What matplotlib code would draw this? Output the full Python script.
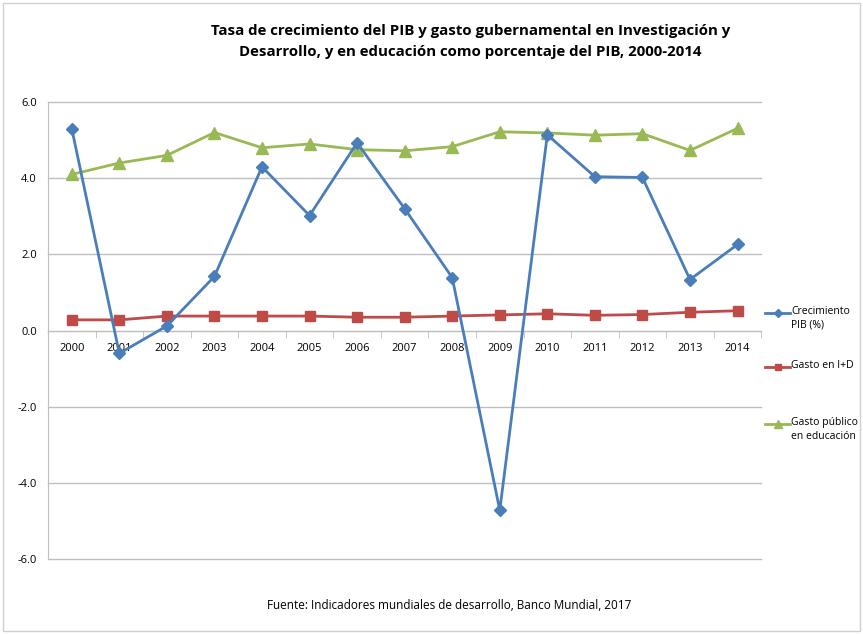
import matplotlib.pyplot as plt
from matplotlib.patches import Rectangle
from matplotlib.lines import Line2D

years = [2000, 2001, 2002, 2003, 2004, 2005, 2006, 2007, 2008, 2009, 2010, 2011, 2012, 2013, 2014]
pib = [5.30, -0.60, 0.12, 1.42, 4.30, 3.02, 4.93, 3.20, 1.39, -4.72, 5.14, 4.04, 4.02, 1.34, 2.26]
gasto_id = [0.28, 0.28, 0.38, 0.38, 0.38, 0.38, 0.35, 0.35, 0.38, 0.41, 0.44, 0.40, 0.42, 0.48, 0.52]
gasto_edu = [4.10, 4.40, 4.60, 5.20, 4.80, 4.90, 4.75, 4.72, 4.83, 5.22, 5.19, 5.13, 5.17, 4.73, 5.31]
labels = ['Crecimiento\nPIB (%)', 'Gasto en I+D', 'Gasto público\nen educación']

plt.rcParams['font.family'] = ['Open Sans', 'DejaVu Sans']

W, H = 863, 634
fig = plt.figure(figsize=(W / 100, H / 100), dpi=100)
fig.patches.append(Rectangle((0.004, 0.004), 0.992, 0.992, transform=fig.transFigure,
                             fill=False, edgecolor='#d0d0d0', lw=1))
ax = fig.add_axes([0.0556, 0.1183, 0.8266, 0.7207])

x = list(range(len(years)))
styles = [('#4a7ebb', 'D', 6), ('#be4b48', 's', 7), ('#98b954', '^', 8)]
for vals, (c, m, ms) in zip([pib, gasto_id, gasto_edu], styles):
    ax.plot(x, vals, color=c, lw=2, marker=m, ms=ms, zorder=4 if m == 'D' else 3)

ax.set_xlim(-0.5, len(years) - 0.5)
ax.set_ylim(-6, 6)
ax.set_yticks([-6, -4, -2, 0, 2, 4, 6])
ax.set_yticklabels(['%.1f' % v for v in [-6, -4, -2, 0, 2, 4, 6]], fontsize=8)
ax.yaxis.grid(True, color='#bfbfbf', lw=1)
for gl in ax.get_ygridlines():
    gl.set_clip_on(False)
ax.set_axisbelow(True)
ax.tick_params(axis='y', length=0, pad=8)

for s in ['top', 'right']:
    ax.spines[s].set_visible(False)
ax.spines['left'].set_color('#bfbfbf')
ax.spines['bottom'].set_position(('data', 0))
ax.spines['bottom'].set_color('#bfbfbf')

ax.set_xticks(x)
ax.set_xticklabels([str(y) for y in years], fontsize=8)
ax.set_xticks([i - 0.5 for i in range(len(years) + 1)], minor=True)
ax.tick_params(axis='x', which='major', length=0, pad=9)
ax.tick_params(axis='x', which='minor', length=5, color='#bfbfbf')

fig.text(0.545, 0.935, 'Tasa de crecimiento del PIB y gasto gubernamental en Investigación y\nDesarrollo, y en educación como porcentaje del PIB, 2000-2014',
         ha='center', va='center', fontsize=10.8, fontweight='bold', linespacing=1.6)
fig.text(0.52, 0.045, 'Fuente: Indicadores mundiales de desarrollo, Banco Mundial, 2017',
         ha='center', va='center', fontsize=8.5)

# legend drawn by hand so the marker sits on the first text line
for lab, (c, m, ms), py in zip(labels, styles, [313, 367, 424]):
    yf = 1 - py / H
    fig.add_artist(Line2D([765 / W, 790 / W], [yf, yf], color=c, lw=2,
                          transform=fig.transFigure))
    fig.add_artist(Line2D([777.5 / W], [yf], color=c, marker=m, ms=ms * 0.7,
                          transform=fig.transFigure))
    fig.text(791 / W, yf + 7 / H, lab, ha='left', va='top', fontsize=7.5, linespacing=1.35)

plt.savefig('out.png', dpi=100)
